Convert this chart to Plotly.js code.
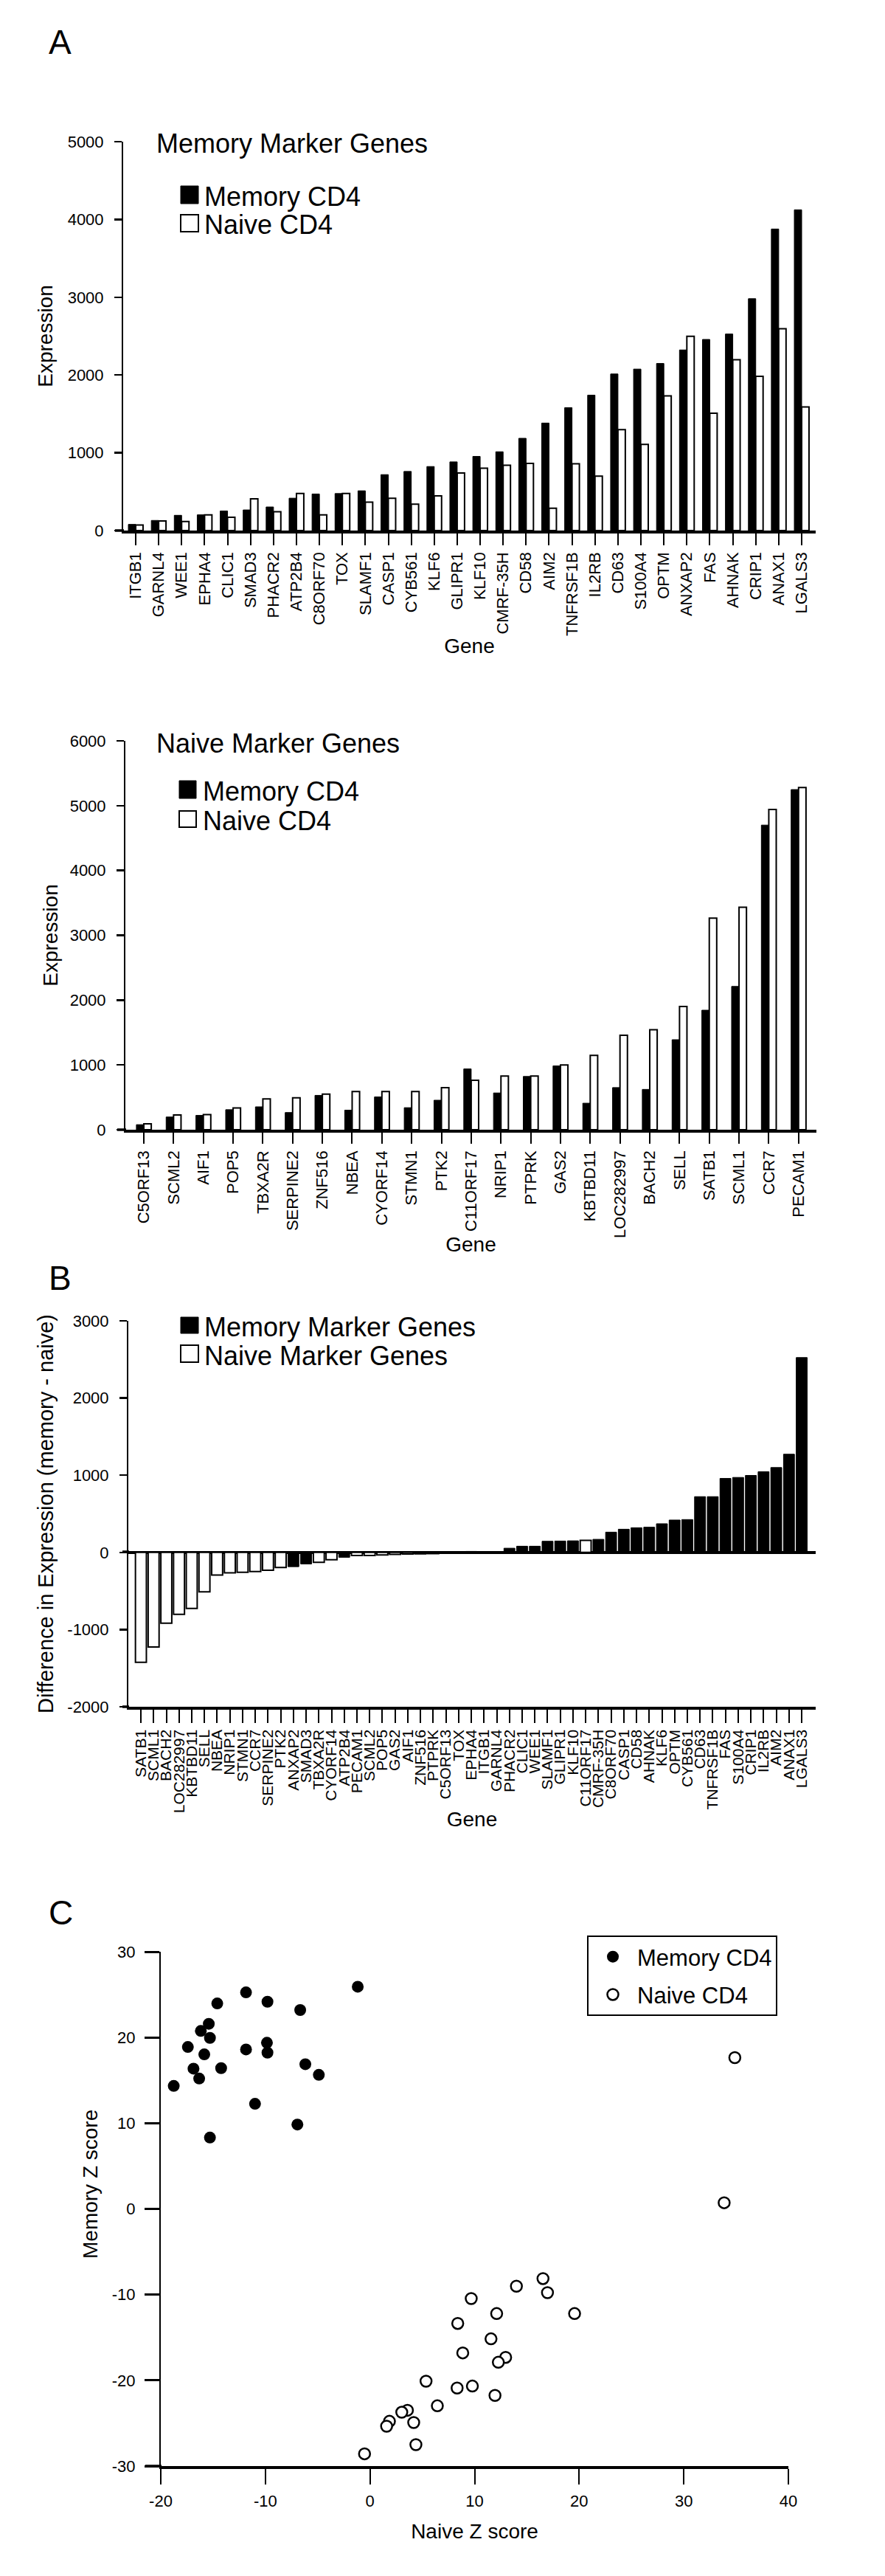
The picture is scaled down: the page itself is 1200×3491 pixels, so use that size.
<!DOCTYPE html>
<html>
<head>
<meta charset="utf-8">
<script src="https://cdn.plot.ly/plotly-3.0.1.min.js"></script>
<style>
  html, body { margin: 0; padding: 0; background: #ffffff; }
  #chart { width: 1200px; height: 3491px; }
</style>
</head>
<body>
<div id="chart"></div>
<script>
// ---------------- DATA ----------------
// Panel A (top): Memory marker genes
const memGenes = ['ITGB1','GARNL4','WEE1','EPHA4','CLIC1','SMAD3','PHACR2','ATP2B4','C8ORF70','TOX',
  'SLAMF1','CASP1','CYB561','KLF6','GLIPR1','KLF10','CMRF-35H','CD58','AIM2','TNFRSF1B',
  'IL2RB','CD63','S100A4','OPTM','ANXAP2','FAS','AHNAK','CRIP1','ANAX1','LGALS3'];
const memGenesMemoryExpr = [79,130,196,202,252,265,303,416,470,476,
  511,719,760,823,883,953,1013,1186,1382,1580,
  1741,2013,2076,2148,2322,2457,2527,2981,3877,4124];
const memGenesNaiveExpr = [70,123,117,202,170,407,243,476,202,476,
  366,416,338,445,741,801,839,864,287,858,
  700,1297,1107,1732,2498,1508,2196,1984,2596,1590];

// Panel A (bottom): Naive marker genes
const naiveGenes = ['C5ORF13','SCML2','AIF1','POP5','TBXA2R','SERPINE2','ZNF516','NBEA','CYORF14','STMN1',
  'PTK2','C11ORF17','NRIP1','PTPRK','GAS2','KBTBD11','LOC282997','BACH2','SELL','SATB1',
  'SCML1','CCR7','PECAM1'];
const naiveGenesMemoryExpr = [78,196,221,309,353,265,530,302,506,340,
  455,938,567,822,985,409,650,622,1389,1844,
  2211,4700,5248];
const naiveGenesNaiveExpr = [92,229,233,336,474,492,548,590,590,590,
  650,762,827,827,999,1147,1458,1542,1900,3265,
  3432,4942,5281];

// Panel B: difference (memory - naive), sorted
const diffGenes = ['SATB1','SCML1','BACH2','LOC282997','KBTBD11','SELL','NBEA','NRIP1','STMN1','CCR7',
  'SERPINE2','PTK2','ANXAP2','SMAD3','TBXA2R','CYORF14','ATP2B4','PECAM1','SCML2','POP5',
  'GAS2','AIF1','ZNF516','PTPRK','C5ORF13','TOX','EPHA4','ITGB1','GARNL4','PHACR2',
  'CLIC1','WEE1','SLAMF1','GLIPR1','KLF10','C11ORF17','CMRF-35H','C8ORF70','CASP1','CD58',
  'AHNAK','KLF6','OPTM','CYB561','CD63','TNFRSF1B','FAS','S100A4','CRIP1','IL2RB',
  'AIM2','ANAX1','LGALS3'];
const diffValues = [-1424,-1226,-917,-803,-726,-510,-293,-264,-258,-248,
  -232,-195,-185,-150,-128,-96,-64,-41,-41,-32,
  -26,-22,-19,-16,-10,-6,13,-13,2,54,
  80,80,144,147,150,155,169,262,300,319,
  326,371,419,425,722,722,958,971,997,1045,
  1099,1272,2524];
const diffTickVals = [-2000,-1000,0,1000,2000,3000];
const diffTickText = ['-2000','-1000','0','1000','2000','3000'];

// Panel C: Z scores
const memoryCD4NaiveZ  = [-18.76,-17.41,-16.87,-16.33,-16.17,-15.41,-15.30,-15.84,-15.30,-14.60,-14.23,
  -11.85,-11.85,-10.99,-9.80,-9.85,-9.80,-6.67,-6.18,-6.94,-4.89,-1.17];
const memoryCD4MemoryZ = [14.35,18.89,16.36,15.21,20.76,21.59,19.95,18.03,8.32,23.97,16.42,
  25.26,18.60,12.26,24.17,19.38,18.23,23.20,16.88,9.84,15.64,25.92];
const naiveCD4NaiveZ  = [34.88,33.86,16.54,14.00,16.97,9.68,12.11,19.56,8.39,11.57,8.87,12.97,12.27,
  5.36,8.33,9.79,11.95,6.44,3.58,3.04,1.86,1.59,4.18,4.39,-0.52];
const naiveCD4MemoryZ = [17.65,0.72,-8.13,-9.02,-9.77,-10.46,-12.21,-12.21,-13.36,-15.16,-16.80,-17.32,-17.89,
  -20.10,-20.90,-20.67,-21.76,-22.97,-23.49,-23.72,-24.78,-25.35,-24.92,-27.50,-28.57];
const zTickValsX = [-20,-10,0,10,20,30,40];
const zTickTextX = ['-20','-10','0','10','20','30','40'];
const zTickValsY = [-30,-20,-10,0,10,20,30];
const zTickTextY = ['-30','-20','-10','0','10','20','30'];

// ---------------- LAYOUT HELPERS ----------------
const W = 1200, H = 3491;
const FONT = 'Liberation Sans, Arial, Helvetica, sans-serif';
const LABELFONT = 'Liberation Sans Narrow, Arial Narrow, Liberation Sans, Arial, sans-serif';
const px = v => v / W;
const py = v => 1 - v / H;

const memSet = new Set(memGenes);
const diffMemX = [], diffMemY = [], diffNaiveX = [], diffNaiveY = [];
diffGenes.forEach((g, i) => {
  if (memSet.has(g)) { diffMemX.push(g); diffMemY.push(diffValues[i]); }
  else { diffNaiveX.push(g); diffNaiveY.push(diffValues[i]); }
});

const blackBar = { color: '#000000', line: { color: '#000000', width: 1 } };
const whiteBar = { color: '#ffffff', line: { color: '#000000', width: 2 } };

const traces = [
  { type: 'bar', x: memGenes, y: memGenesMemoryExpr, name: 'Memory CD4', marker: blackBar,
    width: 0.32, offset: -0.32, xaxis: 'x', yaxis: 'y', showlegend: false, hoverinfo: 'skip' },
  { type: 'bar', x: memGenes, y: memGenesNaiveExpr, name: 'Naive CD4', marker: whiteBar,
    width: 0.32, offset: 0, xaxis: 'x', yaxis: 'y', showlegend: false, hoverinfo: 'skip' },
  { type: 'bar', x: naiveGenes, y: naiveGenesMemoryExpr, name: 'Memory CD4', marker: blackBar,
    width: 0.25, offset: -0.25, xaxis: 'x2', yaxis: 'y2', showlegend: false, hoverinfo: 'skip' },
  { type: 'bar', x: naiveGenes, y: naiveGenesNaiveExpr, name: 'Naive CD4', marker: whiteBar,
    width: 0.25, offset: 0, xaxis: 'x2', yaxis: 'y2', showlegend: false, hoverinfo: 'skip' },
  { type: 'bar', x: diffMemX, y: diffMemY, name: 'Memory Marker Genes', marker: blackBar,
    width: 0.86, offset: -0.43, xaxis: 'x3', yaxis: 'y3', showlegend: false, hoverinfo: 'skip' },
  { type: 'bar', x: diffNaiveX, y: diffNaiveY, name: 'Naive Marker Genes', marker: whiteBar,
    width: 0.86, offset: -0.43, xaxis: 'x3', yaxis: 'y3', showlegend: false, hoverinfo: 'skip' },
  { type: 'scatter', mode: 'markers', x: memoryCD4NaiveZ, y: memoryCD4MemoryZ, name: 'Memory CD4',
    marker: { color: '#000000', size: 16, line: { width: 0 } }, xaxis: 'x4', yaxis: 'y4',
    legendgroup: 'm', hoverinfo: 'skip' },
  { type: 'scatter', mode: 'markers', x: naiveCD4NaiveZ, y: naiveCD4MemoryZ, name: 'Naive CD4',
    marker: { color: '#ffffff', size: 15, line: { color: '#000000', width: 2.5 } }, xaxis: 'x4', yaxis: 'y4',
    legendgroup: 'n', hoverinfo: 'skip' }
];

const tickFont = { family: FONT, size: 22, color: '#000000' };
const titleFont = { family: FONT, size: 28, color: '#000000' };

function catAxis(cats, dom, anchor, range, labelSize, ticklen) {
  return {
    domain: dom, anchor: anchor, type: 'category', categoryorder: 'array', categoryarray: cats,
    tickmode: 'array', tickvals: cats, ticktext: cats,
    range: range, showgrid: false, zeroline: false, showline: true, linecolor: '#000000', linewidth: 3.5,
    ticks: 'outside', ticklen: ticklen, tickwidth: 2, tickcolor: '#000000', tickangle: -90,
    tickfont: { family: LABELFONT, size: labelSize, color: '#000000' }, ticklabelstandoff: 1,
    title: { text: 'Gene', font: titleFont, standoff: 0 }, fixedrange: true
  };
}
function valAxis(dom, anchor, range, dtick, titleText, standoff, lstand, ticklen) {
  return {
    domain: dom, anchor: anchor, range: range, dtick: dtick, showgrid: false, zeroline: false,
    showline: true, linecolor: '#000000', linewidth: 2, ticks: 'outside', ticklen: ticklen, tickwidth: 2.5,
    tickcolor: '#000000', tickfont: tickFont, ticklabelstandoff: lstand,
    title: { text: titleText, font: titleFont, standoff: standoff }, fixedrange: true
  };
}
function axisExt(x0, x1, y) {
  return { type: 'line', xref: 'paper', yref: 'paper', x0: px(x0), x1: px(x1), y0: py(y), y1: py(y),
    line: { color: '#000000', width: 3.5 } };
}

const yB = valAxis([py(2313), py(1790)], 'x3', [-2000, 3000], 1000,
  'Difference in Expression (memory - naive)', 10, 10, 10);
yB.title.font = { family: FONT, size: 29, color: '#000000' };
Object.assign(yB, { tickmode: 'array', tickvals: diffTickVals, ticktext: diffTickText,
  zeroline: true, zerolinecolor: '#000000', zerolinewidth: 4 });

const layout = {
  width: W, height: H,
  margin: { l: 0, r: 0, t: 0, b: 0, pad: 0 },
  paper_bgcolor: '#ffffff', plot_bgcolor: '#ffffff',
  font: { family: FONT, color: '#000000' },
  barmode: 'overlay',
  showlegend: true,
  xaxis: catAxis(memGenes, [px(167), px(1106)], 'y', [-0.546, 29.61], 22, 16),
  yaxis: valAxis([py(719), py(192)], 'x', [0, 5000], 1000, 'Expression', 12, 10, 10),
  xaxis2: catAxis(naiveGenes, [px(170), px(1107)], 'y2', [-0.62, 22.6], 22, 15),
  yaxis2: valAxis([py(1531), py(1004)], 'x2', [0, 6000], 1000, 'Expression', 8, 10, 10),
  xaxis3: catAxis(diffGenes, [px(174), px(1106)], 'y3', [-0.99, 53.1], 21, 18),
  yaxis3: yB,
  xaxis4: {
    domain: [px(218), px(1069)], anchor: 'y4', range: [-20, 40], showgrid: false, zeroline: false,
    showline: true, linecolor: '#000000', linewidth: 3.5, ticks: 'outside', ticklen: 21, tickwidth: 2,
    tickcolor: '#000000', tickfont: tickFont, tickmode: 'array', tickvals: zTickValsX, ticktext: zTickTextX,
    ticklabelstandoff: 4, title: { text: 'Naive Z score', font: titleFont, standoff: 20 }, fixedrange: true
  },
  yaxis4: {
    domain: [py(3342), py(2645)], anchor: 'x4', range: [-30, 30], showgrid: false, zeroline: false,
    showline: true, linecolor: '#000000', linewidth: 2, ticks: 'outside', ticklen: 20, tickwidth: 3,
    tickcolor: '#000000', tickfont: tickFont, tickmode: 'array', tickvals: zTickValsY, ticktext: zTickTextY,
    ticklabelstandoff: 8, fixedrange: true
  },
  legend: {
    x: px(796), y: py(2623), xanchor: 'left', yanchor: 'top',
    bordercolor: '#000000', borderwidth: 2, bgcolor: '#ffffff',
    font: { family: FONT, size: 31, color: '#000000' }, tracegroupgap: 8,
    itemwidth: 56, entrywidth: 215, entrywidthmode: 'pixels'
  },
  shapes: [
    // axis line extensions to the left of the y axes
    axisExt(156, 168, 719), axisExt(159, 171, 1531), axisExt(166, 175, 2313), axisExt(166, 175, 2103),
    axisExt(197, 219, 3342),
    // legend swatches panel A (top)
    { type: 'rect', xref: 'paper', yref: 'paper', x0: px(245), x1: px(269), y0: py(276), y1: py(252),
      fillcolor: '#000000', line: { color: '#000000', width: 1 } },
    { type: 'rect', xref: 'paper', yref: 'paper', x0: px(245), x1: px(269), y0: py(314), y1: py(291),
      fillcolor: '#ffffff', line: { color: '#000000', width: 2 } },
    // legend swatches panel A (bottom)
    { type: 'rect', xref: 'paper', yref: 'paper', x0: px(243), x1: px(266), y0: py(1082), y1: py(1058),
      fillcolor: '#000000', line: { color: '#000000', width: 1 } },
    { type: 'rect', xref: 'paper', yref: 'paper', x0: px(243), x1: px(266), y0: py(1121), y1: py(1099),
      fillcolor: '#ffffff', line: { color: '#000000', width: 2 } },
    // legend swatches panel B
    { type: 'rect', xref: 'paper', yref: 'paper', x0: px(245), x1: px(269), y0: py(1807), y1: py(1785),
      fillcolor: '#000000', line: { color: '#000000', width: 1 } },
    { type: 'rect', xref: 'paper', yref: 'paper', x0: px(245), x1: px(269), y0: py(1846), y1: py(1823),
      fillcolor: '#ffffff', line: { color: '#000000', width: 2 } }
  ],
  annotations: [
    { text: 'A', x: px(64), y: py(57), xref: 'paper', yref: 'paper', xanchor: 'left', yanchor: 'middle',
      showarrow: false, font: { family: FONT, size: 46 } },
    { text: 'B', x: px(64), y: py(1732), xref: 'paper', yref: 'paper', xanchor: 'left', yanchor: 'middle',
      showarrow: false, font: { family: FONT, size: 46 } },
    { text: 'C', x: px(64), y: py(2592), xref: 'paper', yref: 'paper', xanchor: 'left', yanchor: 'middle',
      showarrow: false, font: { family: FONT, size: 46 } },
    { text: 'Memory Marker Genes', x: px(210), y: py(194), xref: 'paper', yref: 'paper', xanchor: 'left',
      yanchor: 'middle', showarrow: false, font: { family: FONT, size: 36 } },
    { text: 'Memory CD4', x: px(275), y: py(266), xref: 'paper', yref: 'paper', xanchor: 'left',
      yanchor: 'middle', showarrow: false, font: { family: FONT, size: 36 } },
    { text: 'Naive CD4', x: px(275), y: py(305), xref: 'paper', yref: 'paper', xanchor: 'left',
      yanchor: 'middle', showarrow: false, font: { family: FONT, size: 36 } },
    { text: 'Naive Marker Genes', x: px(210), y: py(1007), xref: 'paper', yref: 'paper', xanchor: 'left',
      yanchor: 'middle', showarrow: false, font: { family: FONT, size: 36 } },
    { text: 'Memory CD4', x: px(273), y: py(1072), xref: 'paper', yref: 'paper', xanchor: 'left',
      yanchor: 'middle', showarrow: false, font: { family: FONT, size: 36 } },
    { text: 'Naive CD4', x: px(273), y: py(1112), xref: 'paper', yref: 'paper', xanchor: 'left',
      yanchor: 'middle', showarrow: false, font: { family: FONT, size: 36 } },
    { text: 'Memory Marker Genes', x: px(275), y: py(1798), xref: 'paper', yref: 'paper', xanchor: 'left',
      yanchor: 'middle', showarrow: false, font: { family: FONT, size: 36 } },
    { text: 'Naive Marker Genes', x: px(275), y: py(1837), xref: 'paper', yref: 'paper', xanchor: 'left',
      yanchor: 'middle', showarrow: false, font: { family: FONT, size: 36 } },
    { text: 'Memory Z score', x: px(122), y: py(2960), xref: 'paper', yref: 'paper', xanchor: 'center',
      yanchor: 'middle', textangle: -90, showarrow: false, font: titleFont }
  ]
};

Plotly.newPlot('chart', traces, layout, { displayModeBar: false, staticPlot: true });
</script>
</body>
</html>
